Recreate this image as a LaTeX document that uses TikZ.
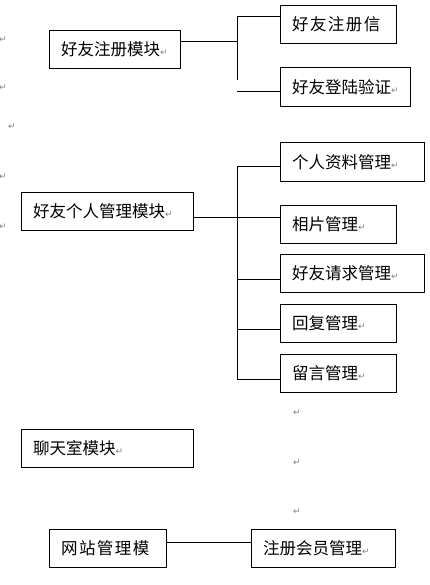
\documentclass[tikz,border=0pt]{standalone}
\usepackage{fontspec}
\newfontfamily\cjk{Noto Sans CJK SC}
\newfontfamily\dejavu{DejaVu Sans}
\newcommand\retmark{{\dejavu\fontsize{9}{9}\selectfont\color{gray}↵}}
\newcommand\wsp{\hspace{1.4pt}}
\tikzset{
  box/.style={draw,line width=1pt,minimum width=#1,minimum height=38pt,inner sep=0pt,anchor=north west},
  txt/.style={anchor=west,inner sep=0pt,xshift=12pt,font=\cjk\fontsize{16.5}{17}\selectfont},
  conn/.style={line width=1pt},
  ret/.style={inner sep=0pt,font=\dejavu\fontsize{9}{9}\selectfont,text=gray}
}
\begin{document}
\begin{tikzpicture}[x=1pt,y=-1pt]
\useasboundingbox (0,0) rectangle (429,585);
% group 1
\node[box=131pt] (m1) at (49,30) {};
\node[txt] (tm1) at (m1.west) {好友注册模块\retmark};
\node[box=116pt] (c11) at (280,5) {};
\node[txt] (tc11) at (c11.west) {好\wsp 友\wsp 注\wsp 册\wsp 信};
\node[box=130pt,minimum height=39pt] (c12) at (280,67) {};
\node[txt] (tc12) at (c12.west) {好友登陆验证\retmark};
\coordinate (j1) at (237,42);
\coordinate (j1t) at (237,17);
\coordinate (j1b) at (237,80);
\coordinate (j1c) at (237,92);
\draw[conn] (m1.east |- j1) -- (j1);
\draw[conn] (j1t) -- (j1b);
\draw[conn] (j1t) -- (c11.west |- j1t);
\draw[conn] (j1c) -- (c12.west |- j1c);
% group 2
\node[box=172pt] (m2) at (21,192) {};
\node[txt] (tm2) at (m2.west) {好友个人管理模块\retmark};
\node[box=144pt,minimum height=39pt] (c21) at (280,142) {};
\node[txt] (tc21) at (c21.west) {个人资料管理\retmark};
\node[box=116pt] (c22) at (280,205) {};
\node[txt] (tc22) at (c22.west) {相片管理\retmark};
\node[box=144pt] (c23) at (280,254) {};
\node[txt] (tc23) at (c23.west) {好友请求管理\retmark};
\node[box=116pt] (c24) at (280,304) {};
\node[txt] (tc24) at (c24.west) {回复管理\retmark};
\node[box=116pt] (c25) at (280,354) {};
\node[txt] (tc25) at (c25.west) {留言管理\retmark};
\coordinate (j2a) at (237,167);
\coordinate (j2b) at (237,217);
\coordinate (j2c) at (237,279);
\coordinate (j2d) at (237,329);
\coordinate (j2e) at (237,379);
\draw[conn] (j2a) -- (j2e);
\draw[conn] (j2a) -- (c21.west |- j2a);
\draw[conn] (m2.east |- j2b) -- (c22.west |- j2b);
\draw[conn] (j2c) -- (c23.west |- j2c);
\draw[conn] (j2d) -- (c24.west |- j2d);
\draw[conn] (j2e) -- (c25.west |- j2e);
% chat
\node[box=172pt] (m3) at (21,429) {};
\node[txt] (tm3) at (m3.west) {聊天室模块\retmark};
% admin
\node[box=117pt] (m4) at (49,529) {};
\node[txt] (tm4) at (m4.west) {网\wsp 站\wsp 管\wsp 理\wsp 模};
\node[box=144pt] (c41) at (251,529) {};
\node[txt] (tc41) at (c41.west) {注册会员管理\retmark};
\coordinate (j4) at (166,542);
\draw[conn] (m4.east |- j4) -- (c41.west |- j4);
% loose paragraph marks
\node[ret] (r1) at (3,40) {↵};
\node[ret] (r2) at (3,88) {↵};
\node[ret] (r3) at (12,127) {↵};
\node[ret] (r4) at (3,177) {↵};
\node[ret] (r5) at (3,227) {↵};
\node[ret] (r6) at (297,413) {↵};
\node[ret] (r7) at (297,463) {↵};
\node[ret] (r8) at (297,512) {↵};
\end{tikzpicture}
\end{document}
